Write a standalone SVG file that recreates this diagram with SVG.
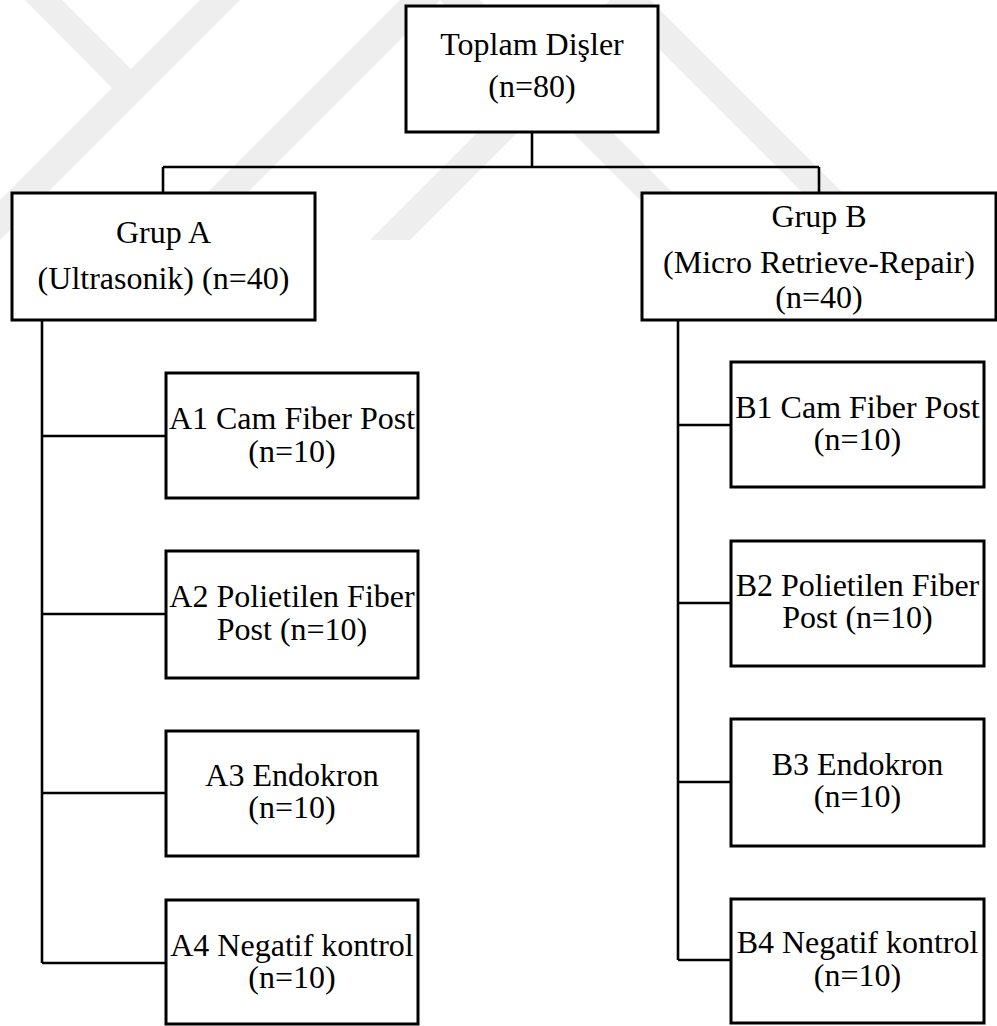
<svg xmlns="http://www.w3.org/2000/svg" width="997" height="1026" viewBox="0 0 997 1026">
<style>
.box{fill:#fff;stroke:#000;stroke-width:3}
.con{fill:none;stroke:#000;stroke-width:2.6}
.wm{fill:#eeeeee;stroke:none}
text{font-family:"Liberation Serif","Times New Roman",serif;font-size:32px;fill:#000;text-anchor:middle}
</style>
<rect width="997" height="1026" fill="#fff"/>
<g id="watermark">
<polygon class="wm" points="25,0 62,0 150,88 112,88"/>
<polygon class="wm" points="200,0 240,0 0,240 0,200"/>
<polygon class="wm" points="400,0 440,0 200,240 160,240"/>
<polygon class="wm" points="610,0 650,0 410,240 370,240"/>
<polygon class="wm" points="440,0 480,0 720,240 680,240"/>
<polygon class="wm" points="610,0 650,0 890,240 850,240"/>
</g>
<g id="connectors">
<path class="con" d="M532,132 V167 M163,167 H819 M163,167 V193 M819,167 V193"/>
<path class="con" d="M42,320 V963 M42,436 H166 M42,614 H166 M42,793 H166 M42,963 H166"/>
<path class="con" d="M678,320 V960 M678,425 H731 M678,603 H731 M678,782 H731 M678,960 H731"/>
</g>
<g id="toplam">
<rect class="box" x="406" y="6" width="252" height="126"/>
<text x="532" y="55">Toplam Dişler</text>
<text x="532" y="97">(n=80)</text>
</g>
<g id="grupA">
<rect class="box" x="12" y="193" width="303" height="127"/>
<text x="163.5" y="243">Grup A</text>
<text x="163.5" y="289">(Ultrasonik) (n=40)</text>
</g>
<g id="grupB">
<rect class="box" x="642" y="193" width="354" height="127"/>
<text x="819" y="227">Grup B</text>
<text x="819" y="273">(Micro Retrieve-Repair)</text>
<text x="819" y="308">(n=40)</text>
</g>
<g id="A1">
<rect class="box" x="166" y="373" width="252" height="125"/>
<text x="292" y="429">A1 Cam Fiber Post</text>
<text x="292" y="462">(n=10)</text>
</g>
<g id="A2">
<rect class="box" x="166" y="551" width="252" height="127"/>
<text x="292" y="607">A2 Polietilen Fiber</text>
<text x="292" y="640">Post (n=10)</text>
</g>
<g id="A3">
<rect class="box" x="166" y="731" width="252" height="125"/>
<text x="292" y="786">A3 Endokron</text>
<text x="292" y="818">(n=10)</text>
</g>
<g id="A4">
<rect class="box" x="166" y="900" width="252" height="124"/>
<text x="292" y="956">A4 Negatif kontrol</text>
<text x="292" y="988">(n=10)</text>
</g>
<g id="B1">
<rect class="box" x="731" y="362" width="253" height="125"/>
<text x="857.5" y="418">B1 Cam Fiber Post</text>
<text x="857.5" y="450">(n=10)</text>
</g>
<g id="B2">
<rect class="box" x="731" y="541" width="253" height="125"/>
<text x="857.5" y="596">B2 Polietilen Fiber</text>
<text x="857.5" y="628">Post (n=10)</text>
</g>
<g id="B3">
<rect class="box" x="731" y="719" width="253" height="127"/>
<text x="857.5" y="775">B3 Endokron</text>
<text x="857.5" y="807">(n=10)</text>
</g>
<g id="B4">
<rect class="box" x="731" y="899" width="253" height="124"/>
<text x="857.5" y="953">B4 Negatif kontrol</text>
<text x="857.5" y="986">(n=10)</text>
</g>
</svg>
